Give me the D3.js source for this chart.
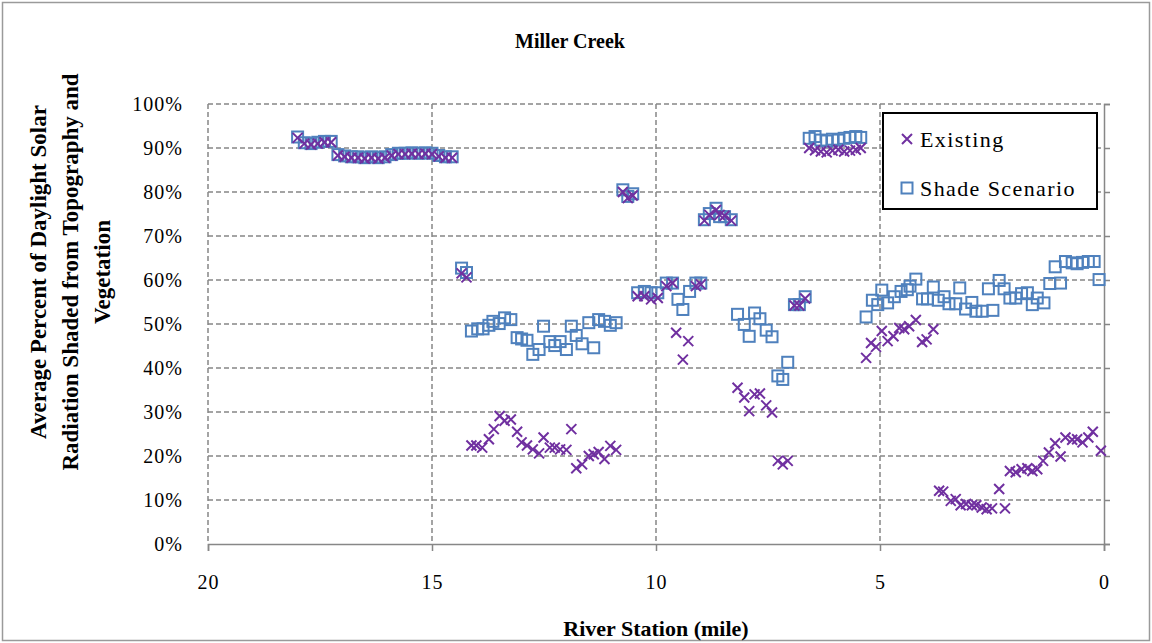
<!DOCTYPE html>
<html>
<head>
<meta charset="utf-8">
<script src="https://cdn.jsdelivr.net/npm/d3@7"></script>
</head>
<body style="margin:0;background:#fff">
<svg id="chart" width="1152" height="643" style="display:block"></svg>
<script>
// ---------- DATA ----------
const chartTitle = "Miller Creek";
const xTitle = "River Station (mile)";
const yTitleLines = ["Average Percent of Daylight Solar", "Radiation Shaded from Topography and", "Vegetation"];
const seriesNames = ["Existing", "Shade Scenario"];
const xTicks = [20, 15, 10, 5, 0];
const yTicks = [0, 0.1, 0.2, 0.3, 0.4, 0.5, 0.6, 0.7, 0.8, 0.9, 1.0];

const shadeMile = [
  18.0,17.85,17.7,17.55,17.4,17.25,17.1,16.95,16.8,16.65,16.5,16.35,16.2,16.05,15.9,15.75,15.6,15.45,15.3,15.15,15.0,14.85,14.7,14.55,
  14.34,14.23,
  14.12,13.98,13.86,13.73,13.64,13.5,13.38,13.24,13.1,13.0,12.88,12.75,12.61,12.51,12.37,12.26,12.14,12.0,11.89,11.78,11.65,11.5,11.39,11.28,11.15,11.02,10.89,
  10.74,10.63,10.52,
  10.41,10.26,10.11,9.96,9.77,9.63,9.51,9.4,9.25,9.11,9.0,
  8.92,8.81,8.66,8.58,8.47,8.32,
  8.18,8.03,7.92,7.8,7.68,7.54,7.41,7.28,7.17,7.06,
  6.91,6.8,6.67,
  6.58,6.45,6.32,6.19,6.06,5.93,5.8,5.67,5.54,5.43,
  5.31,5.17,5.05,4.96,4.83,4.68,4.53,4.39,4.33,4.2,4.05,3.94,3.81,3.7,3.57,3.46,3.31,3.22,3.09,2.95,2.86,2.72,2.58,2.48,2.34,2.23,2.1,1.97,1.84,1.71,1.6,1.49,1.34,1.21,1.09,0.97,0.86,0.71,0.6,0.48,0.35,0.22,0.11
];
const shadeValue = [
  92.5,91.2,91.0,91.3,91.5,91.5,88.5,88.2,88.0,88.0,87.8,88.0,87.8,88.0,88.5,88.8,88.8,88.9,88.8,88.9,88.8,88.3,88.0,88.0,
  62.7,61.7,
  48.4,48.9,48.9,49.7,50.6,50.1,51.4,51.0,46.9,46.6,46.3,43.1,44.2,49.5,46.0,45.1,46.0,44.2,49.5,47.4,45.5,50.3,44.6,51.0,50.6,49.7,50.3,
  80.5,79.0,79.6,
  57.1,57.4,57.1,57.1,59.3,59.3,55.6,53.3,57.4,59.3,59.3,
  73.7,75.1,76.3,74.4,74.4,73.7,
  52.2,49.9,47.2,52.5,51.2,48.6,47.1,38.2,37.4,41.3,
  54.4,54.4,56.2,
  92.2,92.6,91.8,91.6,92.0,91.8,92.2,92.4,92.6,92.4,
  51.6,55.4,54.4,57.7,54.8,56.2,57.4,57.8,58.6,60.2,55.7,55.7,58.4,55.4,56.2,54.6,54.6,58.2,53.4,54.9,52.9,52.9,58.0,53.1,59.9,58.0,55.9,55.9,56.9,57.1,54.4,55.9,54.8,59.2,63.0,59.3,64.2,63.9,63.7,64.0,64.2,64.2,60.1
];

const existingMile = [
  18.0,17.85,17.7,17.55,17.4,17.25,17.1,16.95,16.8,16.65,16.5,16.35,16.2,16.05,15.9,15.75,15.6,15.45,15.3,15.15,15.0,14.85,14.7,14.55,
  14.34,14.23,
  14.12,14.01,13.88,13.73,13.62,13.49,13.38,13.24,13.1,13.0,12.88,12.75,12.61,12.51,12.37,12.26,12.14,12.0,11.89,11.78,11.65,11.5,11.39,11.28,11.15,11.02,10.89,
  10.74,10.63,10.52,
  10.41,10.26,10.11,9.96,9.77,9.63,9.55,9.4,9.28,9.11,9.0,
  8.92,8.81,8.66,8.58,8.47,8.32,
  8.18,8.03,7.92,7.8,7.68,7.54,7.41,7.28,7.17,7.06,
  6.91,6.8,6.67,
  6.58,6.45,6.32,6.19,6.06,5.93,5.8,5.67,5.54,5.43,
  5.31,5.2,5.09,4.96,4.83,4.7,4.57,4.46,4.35,4.2,4.06,3.96,3.81,
  3.68,3.59,3.42,3.31,3.2,3.08,2.95,2.85,2.73,2.62,2.5,2.34,2.21,2.1,1.97,1.84,1.71,1.6,1.49,1.36,1.23,1.09,0.97,0.86,0.71,0.6,0.48,0.35,0.25,0.07
];
const existingValue = [
  92.3,91.0,90.8,91.0,91.3,91.3,88.3,88.0,87.8,87.8,87.6,87.8,87.6,87.8,88.3,88.6,88.6,88.7,88.6,88.7,88.6,88.1,87.8,87.8,
  61.5,60.6,
  22.4,22.4,21.9,23.8,26.1,29.1,28.0,28.3,25.5,23.1,22.4,21.5,20.6,24.2,21.9,21.9,21.5,21.4,26.1,17.2,18.1,20.0,20.4,20.9,19.3,22.3,21.4,
  80.0,78.6,79.2,
  56.3,56.3,55.6,55.9,58.6,59.3,48.0,41.9,46.1,58.6,59.0,
  73.5,74.8,75.9,74.8,74.6,73.5,
  35.5,33.3,30.2,34.0,34.2,31.5,29.9,18.9,18.1,18.9,
  54.2,54.2,55.8,
  90.0,89.5,89.2,89.0,89.4,89.6,89.2,89.4,89.6,90.0,
  42.3,45.7,44.8,48.4,46.1,47.2,49.1,48.8,49.5,50.9,45.9,46.5,48.8,
  12.1,11.9,9.8,10.2,8.8,9.1,8.8,8.8,8.3,7.9,8.1,12.5,8.1,16.6,16.3,17.0,17.2,16.6,17.0,18.9,20.8,22.9,19.9,24.2,23.7,23.8,23.1,24.2,25.5,21.2
];

// ---------- DRAW ----------
const FONT = "Liberation Serif, Times New Roman, serif";
const svg = d3.select("#chart");
const W = 1152, H = 643;
const plot = {left: 208, right: 1104, top: 104, bottom: 544};
const gridColor = "#878787";
const existingColor = "#7030A0";
const shadeColor = "#4F81BD";

svg.append("rect").attr("x", 2.5).attr("y", 2.5).attr("width", W - 5).attr("height", H - 5)
  .attr("fill", "#fff").attr("stroke", "#9a9a9a").attr("stroke-width", 1.5);

const x = d3.scaleLinear().domain([20, 0]).range([plot.left, plot.right]);
const y = d3.scaleLinear().domain([0, 1]).range([plot.bottom, plot.top]);

// gridlines
const grid = svg.append("g");
grid.selectAll("line.h").data(yTicks.filter(d => d > 0)).join("line")
  .attr("x1", plot.left).attr("x2", plot.right)
  .attr("y1", d => y(d)).attr("y2", d => y(d))
  .attr("stroke", gridColor).attr("stroke-width", 1.5).attr("stroke-dasharray", "5,3");
grid.selectAll("line.v").data(xTicks.filter(d => d > 0)).join("line")
  .attr("x1", d => x(d)).attr("x2", d => x(d))
  .attr("y1", plot.top).attr("y2", plot.bottom)
  .attr("stroke", gridColor).attr("stroke-width", 1.5).attr("stroke-dasharray", "5,3");

// x axis (bottom)
const xAxis = d3.axisBottom(x).tickValues(xTicks).tickSize(7).tickPadding(24).tickFormat(d3.format("d"));
const gx = svg.append("g").attr("transform", `translate(0,${plot.bottom})`).call(xAxis);
gx.select(".domain").attr("stroke", gridColor).attr("stroke-width", 1.5);
gx.selectAll(".tick line").attr("stroke", gridColor).attr("stroke-width", 1.5);
gx.selectAll(".tick text").attr("fill", "#000").attr("font-size", 20).attr("letter-spacing", 1);

// y axis line at x=0 (right) with ticks outward right
const yAxisLine = d3.axisRight(y).tickValues(yTicks).tickSize(6).tickFormat("");
const gy = svg.append("g").attr("transform", `translate(${plot.right},0)`).call(yAxisLine);
gy.select(".domain").attr("stroke", gridColor).attr("stroke-width", 1.5);
gy.selectAll(".tick line").attr("stroke", gridColor).attr("stroke-width", 1.5);

// y labels on left
const yLabelAxis = d3.axisLeft(y).tickValues(yTicks).tickSize(0).tickPadding(25).tickFormat(d3.format(".0%"));
const gyl = svg.append("g").attr("transform", `translate(${plot.left},0)`).call(yLabelAxis);
gyl.select(".domain").remove();
gyl.selectAll(".tick text").attr("fill", "#000").attr("font-size", 20).attr("letter-spacing", 1);

// shade squares
const sq = 11;
svg.append("g").selectAll("rect").data(shadeMile.map((m, i) => [m, shadeValue[i] / 100])).join("rect")
  .attr("x", d => x(d[0]) - sq / 2).attr("y", d => y(d[1]) - sq / 2)
  .attr("width", sq).attr("height", sq)
  .attr("fill", "none").attr("stroke", shadeColor).attr("stroke-width", 2);

// existing x marks
const xs = 5;
const xPath = (cx, cy) => `M${cx - xs},${cy - xs}L${cx + xs},${cy + xs}M${cx - xs},${cy + xs}L${cx + xs},${cy - xs}`;
svg.append("g").selectAll("path").data(existingMile.map((m, i) => [m, existingValue[i] / 100])).join("path")
  .attr("d", d => xPath(x(d[0]), y(d[1])))
  .attr("fill", "none").attr("stroke", existingColor).attr("stroke-width", 2);

// title
svg.append("text").attr("x", 570).attr("y", 48).attr("text-anchor", "middle")
  .attr("font-size", 20).attr("font-weight", "bold").text(chartTitle);

// x title
svg.append("text").attr("x", 656).attr("y", 636).attr("text-anchor", "middle")
  .attr("font-size", 22).attr("font-weight", "bold").text(xTitle);

// y title
const yt = svg.append("text").attr("transform", "translate(0,272) rotate(-90)")
  .attr("text-anchor", "middle").attr("font-size", 23).attr("font-weight", "bold");
yTitleLines.forEach((t, i) => {
  yt.append("tspan").attr("x", 0).attr("y", 46 + i * 32).text(t);
});

// legend
const lg = svg.append("g");
lg.append("rect").attr("x", 883).attr("y", 113).attr("width", 214).attr("height", 96)
  .attr("fill", "#fff").attr("stroke", "#000").attr("stroke-width", 2);
lg.append("path").attr("d", xPath(907, 139)).attr("fill", "none").attr("stroke", existingColor).attr("stroke-width", 2);
lg.append("text").attr("x", 920).attr("y", 147).attr("font-size", 22).attr("letter-spacing", 1.4).text(seriesNames[0]);
lg.append("rect").attr("x", 907 - sq / 2).attr("y", 188 - sq / 2).attr("width", sq).attr("height", sq)
  .attr("fill", "none").attr("stroke", shadeColor).attr("stroke-width", 2);
lg.append("text").attr("x", 920).attr("y", 196).attr("font-size", 22).attr("letter-spacing", 1.4).text(seriesNames[1]);

// apply serif font to every text element (attribute and inline style)
svg.selectAll("text").attr("font-family", FONT).style("font-family", FONT);
svg.selectAll("g").filter(function () { return this.hasAttribute("font-family"); }).attr("font-family", FONT);
</script>
</body>
</html>
